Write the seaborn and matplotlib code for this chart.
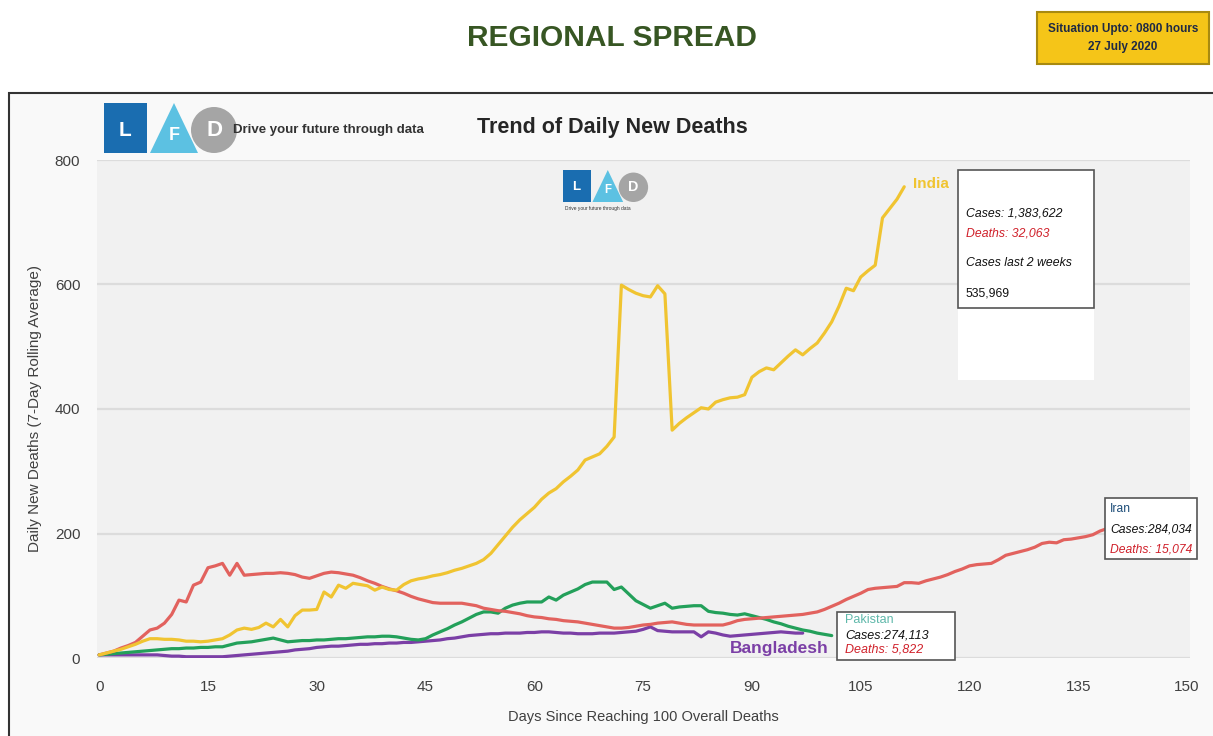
import numpy as np
import pandas as pd
import matplotlib
matplotlib.use('Agg')
import matplotlib.pyplot as plt
import matplotlib.patches as mpatches
import seaborn as sns

# 일별 신규 사망자 (7일 이동평균), 100명 사망 도달 이후 경과일 기준
india = [5, 8, 11, 14, 18, 22, 27, 31, 31, 30, 30, 29, 27, 27, 26, 27, 29, 31, 37, 45,
         48, 46, 49, 56, 50, 62, 50, 68, 77, 77, 78, 106, 98, 117, 112, 120, 118, 116, 109, 114,
         110, 109, 118, 124, 127, 129, 132, 134, 137, 141, 144, 148, 152, 158, 168, 182, 196, 210, 222, 232,
         242, 255, 265, 272, 283, 292, 302, 318, 323, 328, 340, 355, 599, 592, 586, 582, 580, 598, 585, 366,
         377, 386, 394, 402, 400, 411, 415, 418, 419, 423, 451, 460, 466, 463, 474, 485, 495, 487, 497, 506,
         522, 540, 565, 594, 590, 612, 622, 631, 707, 722, 737, 757]
iran = [5, 8, 11, 16, 20, 25, 35, 45, 48, 56, 70, 93, 90, 117, 122, 145, 148, 152, 133, 152,
        133, 134, 135, 136, 136, 137, 136, 134, 130, 128, 132, 136, 138, 137, 135, 133, 129, 124, 120, 115,
        111, 108, 104, 99, 95, 92, 89, 88, 88, 88, 88, 86, 84, 80, 78, 76, 75, 73, 71, 68,
        66, 65, 63, 62, 60, 59, 58, 56, 54, 52, 50, 48, 48, 49, 51, 53, 54, 56, 57, 58,
        56, 54, 53, 53, 53, 53, 53, 56, 60, 62, 63, 64, 65, 66, 67, 68, 69, 70, 72, 74,
        78, 83, 88, 94, 99, 104, 110, 112, 113, 114, 115, 121, 121, 120, 124, 127, 130, 134, 139, 143,
        148, 150, 151, 152, 158, 165, 168, 171, 174, 178, 184, 186, 185, 190, 191, 193, 195, 198, 204, 208]
pakistan = [5, 6, 7, 8, 9, 10, 11, 12, 13, 14, 15, 15, 16, 16, 17, 17, 18, 18, 21, 24,
            25, 26, 28, 30, 32, 29, 26, 27, 28, 28, 29, 29, 30, 31, 31, 32, 33, 34, 34, 35,
            35, 34, 32, 30, 29, 31, 37, 42, 47, 53, 58, 64, 70, 74, 74, 72, 80, 85, 88, 90,
            90, 90, 98, 93, 101, 106, 111, 118, 122, 122, 122, 110, 114, 103, 92, 86, 80, 84, 88, 80,
            82, 83, 84, 84, 75, 73, 72, 70, 69, 71, 68, 65, 62, 58, 55, 51, 48, 45, 43, 40,
            38, 36]
bangladesh = [5, 5, 5, 5, 5, 5, 5, 5, 5, 4, 3, 3, 2, 2, 2, 2, 2, 2, 3, 4,
              5, 6, 7, 8, 9, 10, 11, 13, 14, 15, 17, 18, 19, 19, 20, 21, 22, 22, 23, 23,
              24, 24, 25, 25, 26, 27, 28, 29, 31, 32, 34, 36, 37, 38, 39, 39, 40, 40, 40, 41,
              41, 42, 42, 41, 40, 40, 39, 39, 39, 40, 40, 40, 41, 42, 43, 46, 50, 44, 43, 42,
              42, 42, 42, 34, 42, 40, 37, 35, 36, 37, 38, 39, 40, 41, 42, 41, 40, 40]

countries = ['Bangladesh', 'Pakistan', 'Iran', 'India']
colors = {'India': '#F0C431', 'Iran': '#E2625E', 'Pakistan': '#23A05A', 'Bangladesh': '#7B3FA6'}
x_ticks = [0, 15, 30, 45, 60, 75, 90, 105, 120, 135, 150]
y_ticks = [0, 200, 400, 600, 800]

series = {'India': india, 'Iran': iran, 'Pakistan': pakistan, 'Bangladesh': bangladesh}
df = pd.concat([pd.DataFrame({'day': np.arange(len(v)), 'deaths': v, 'country': k})
                for k, v in series.items()], ignore_index=True)

sns.set_style('white')
plt.rcParams['font.family'] = ['Liberation Sans Narrow', 'Liberation Sans', 'DejaVu Sans']

W, H = 1213, 736
fig = plt.figure(figsize=(W / 100, H / 100), dpi=100)
fig.patch.set_facecolor('white')

# 배경 (픽셀 좌표 오버레이)
bg = fig.add_axes([0, 0, 1, 1], zorder=0)
bg.set_xlim(0, W); bg.set_ylim(H, 0); bg.axis('off')
bg.add_patch(mpatches.Rectangle((9, 93), 1210, 650, facecolor='#F9F9F9', edgecolor='#333333', lw=1.5))
bg.text(612, 38, 'REGIONAL SPREAD', ha='center', va='center', fontsize=21.5, fontweight='bold', color='#375623')
bg.add_patch(mpatches.Rectangle((1037, 12), 172, 52, facecolor='#F5C518', edgecolor='#A88A10', lw=1.5))
bg.text(1123, 29, 'Situation Upto: 0800 hours', ha='center', va='center', fontsize=8.5, fontweight='bold', color='#1F2A44')
bg.text(1123, 47, '27 July 2020', ha='center', va='center', fontsize=8.5, fontweight='bold', color='#1F2A44')

# 메인 차트
ax = fig.add_axes([97 / W, 1 - 658 / H, (1190 - 97) / W, (658 - 160) / H], zorder=1)
ax.set_facecolor('#F1F1F1')
sns.lineplot(data=df, x='day', y='deaths', hue='country', hue_order=countries,
             palette=colors, linewidth=2.3, legend=False, ax=ax)
ax.set_xlim(-0.3, 150.4)
ax.set_ylim(0, 800)
ax.set_xticks(x_ticks)
ax.set_yticks(y_ticks)
ax.grid(axis='y', color='#DCDCDC', lw=1.6)
ax.grid(axis='x', visible=False)
for s in ax.spines.values():
    s.set_visible(False)
ax.tick_params(axis='both', length=0, labelsize=11, labelcolor='#404040')
ax.tick_params(axis='x', pad=16)
ax.tick_params(axis='y', pad=12)
ax.set_xlabel('Days Since Reaching 100 Overall Deaths', fontsize=10.5, color='#404040', labelpad=11)
ax.set_ylabel('Daily New Deaths (7-Day Rolling Average)', fontsize=11, color='#404040', labelpad=9)

# 전경 오버레이: 로고, 제목, 주석
fg = fig.add_axes([0, 0, 1, 1], zorder=3)
fg.set_xlim(0, W); fg.set_ylim(H, 0); fg.axis('off')


def logo(x0, y0, s, tag_size, tag_below):
    fg.add_patch(mpatches.Rectangle((x0, y0), 43 * s, 50 * s, facecolor='#1A6DB0', edgecolor='none'))
    fg.text(x0 + 21 * s, y0 + 27 * s, 'L', ha='center', va='center', color='white', fontsize=15 * s, fontweight='bold')
    fg.add_patch(mpatches.Polygon([(x0 + 46 * s, y0 + 50 * s), (x0 + 70 * s, y0), (x0 + 94 * s, y0 + 50 * s)],
                                  facecolor='#5CC1E2', edgecolor='none'))
    fg.text(x0 + 70 * s, y0 + 32 * s, 'F', ha='center', va='center', color='white', fontsize=13 * s, fontweight='bold')
    fg.add_patch(mpatches.Circle((x0 + 110 * s, y0 + 27 * s), 23 * s, facecolor='#A5A5A5', edgecolor='none'))
    fg.text(x0 + 110 * s, y0 + 27 * s, 'D', ha='center', va='center', color='white', fontsize=16 * s, fontweight='bold')
    if tag_below:
        fg.text(x0 + 2, y0 + 56 * s, 'Drive your future through data', ha='left', va='top', fontsize=tag_size, color='#333333')
    else:
        fg.text(x0 + 129 * s, y0 + 27 * s, 'Drive your future through data', ha='left', va='center',
                fontsize=tag_size, fontweight='bold', color='#333333')


logo(104, 103, 1.0, 9.5, False)
logo(563, 170, 0.64, 3.5, True)
fg.text(612, 127, 'Trend of Daily New Deaths', ha='center', va='center', fontsize=15.5, fontweight='bold', color='#262626')

# India 주석 박스
fg.add_patch(mpatches.Rectangle((958, 308), 136, 72, facecolor='white', edgecolor='none'))
fg.add_patch(mpatches.Rectangle((958, 170), 136, 138, facecolor='white', edgecolor='#555555', lw=1.2))
fg.text(966, 213, 'Cases: 1,383,622', fontsize=8.8, style='italic', va='center', color='#111111')
fg.text(966, 233, 'Deaths: 32,063', fontsize=8.8, style='italic', va='center', color='#D0202A')
fg.text(966, 263, 'Cases last 2 weeks', fontsize=8.8, style='italic', va='center', color='#111111')
fg.text(966, 293, '535,969', fontsize=8.8, va='center', color='#111111')
fg.text(913, 184, 'India', fontsize=11, fontweight='bold', va='center', color='#F0C431')

# Iran 주석 박스
fg.add_patch(mpatches.Rectangle((1105, 498), 92, 61, facecolor='white', edgecolor='#555555', lw=1.2))
fg.text(1110, 509, 'Iran', fontsize=8.7, va='center', color='#1F4E79')
fg.text(1110, 530, 'Cases:284,034', fontsize=8.7, style='italic', va='center', color='#111111')
fg.text(1110, 549, 'Deaths: 15,074', fontsize=8.7, style='italic', va='center', color='#D0202A')

# Pakistan 주석 박스
fg.add_patch(mpatches.Rectangle((837, 612), 118, 48, facecolor='white', edgecolor='#555555', lw=1.2))
fg.text(845, 620, 'Pakistan', fontsize=9, va='center', color='#5FB8AA')
fg.text(845, 635, 'Cases:274,113', fontsize=9, style='italic', va='center', color='#111111')
fg.text(845, 650, 'Deaths: 5,822', fontsize=9, style='italic', va='center', color='#D0202A')

fg.text(730, 648, 'Bangladesh', fontsize=12.5, fontweight='bold', va='center', color='#7B3FA6')

fig.savefig('out.png', dpi=100)
